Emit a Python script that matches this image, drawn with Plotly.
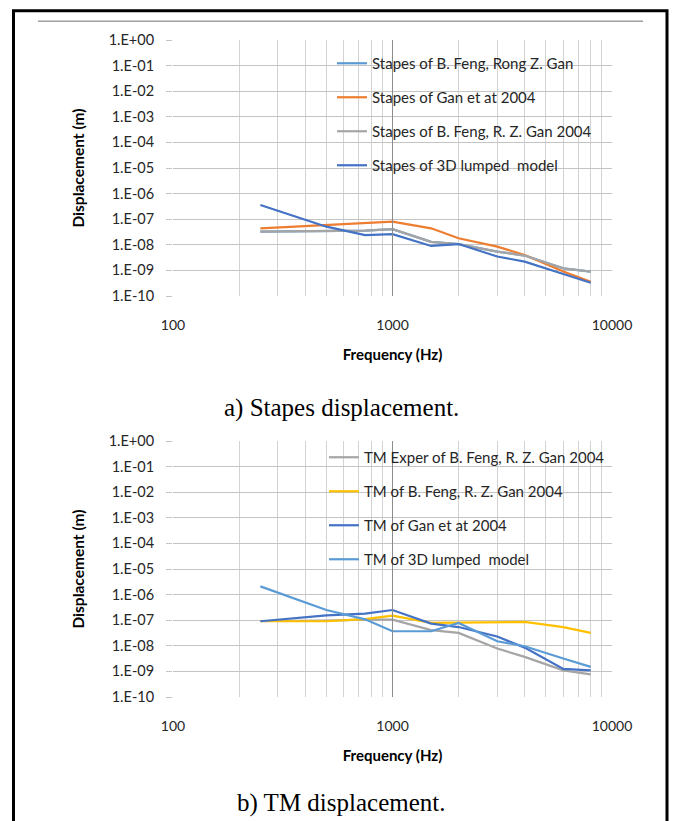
import plotly.graph_objects as go

# Frequencies (Hz) shared by every series
freq = [250, 500, 750, 1000, 1500, 2000, 3000, 4000, 6000, 8000]

# (a) Stapes displacement (m)
stapes_feng_rong = [3.3e-8, 3.5e-8, 3.6e-8, 4.1e-8, 1.3e-8, 1.07e-8, 5.4e-9, 3.8e-9, 1.2e-9, 8.9e-10]
stapes_gan_2004 = [4.4e-8, 5.9e-8, 6.7e-8, 8.0e-8, 4.4e-8, 1.8e-8, 8.5e-9, 4.0e-9, 9.0e-10, 3.6e-10]
stapes_feng_gan_2004 = [3.3e-8, 3.5e-8, 3.6e-8, 4.1e-8, 1.3e-8, 1.07e-8, 5.4e-9, 3.8e-9, 1.2e-9, 8.9e-10]
stapes_lumped = [3.6e-7, 5.1e-8, 2.4e-8, 2.6e-8, 9.0e-9, 1.07e-8, 3.5e-9, 2.2e-9, 7.2e-10, 3.3e-10]

# (b) TM displacement (m)
tm_exper = [9.3e-8, 9.6e-8, 1.05e-7, 1.05e-7, 4.1e-8, 3.2e-8, 7.8e-9, 3.7e-9, 1.1e-9, 7.7e-10]
tm_feng_gan = [9.1e-8, 9.1e-8, 1.1e-7, 1.5e-7, 7.9e-8, 8.1e-8, 8.1e-8, 8.6e-8, 5.4e-8, 3.2e-8]
tm_gan_2004 = [9.1e-8, 1.55e-7, 1.8e-7, 2.5e-7, 7.4e-8, 5.4e-8, 2.3e-8, 8.5e-9, 1.25e-9, 1.1e-9]
tm_lumped = [2.1e-6, 2.5e-7, 1.08e-7, 3.7e-8, 3.7e-8, 7.8e-8, 1.5e-8, 9.6e-9, 3.2e-9, 1.5e-9]

# Axis ticks
y_tickvals = [1e0, 1e-1, 1e-2, 1e-3, 1e-4, 1e-5, 1e-6, 1e-7, 1e-8, 1e-9, 1e-10]
y_ticktext = ["1.E+00", "1.E-01", "1.E-02", "1.E-03", "1.E-04", "1.E-05",
              "1.E-06", "1.E-07", "1.E-08", "1.E-09", "1.E-10"]
x_tickvals = [m * d for d in (100, 1000) for m in range(1, 10)] + [10000]
x_ticktext = [str(v) if v in (100, 1000, 10000) else "" for v in x_tickvals]

W, H = 674, 821


def px_x(p):
    return p / W


def px_y(p):
    return 1 - p / H


BLUE_LIGHT = "#5B9BD5"
ORANGE = "#ED7D31"
GRAY = "#A5A5A5"
YELLOW = "#FFC000"
BLUE = "#4472C4"
UI_FONT = "Lato, Carlito, Calibri, sans-serif"
TEXT = "#262626"

fig = go.Figure()

top_series = [
    ("Stapes of B. Feng, Rong Z. Gan", stapes_feng_rong, BLUE_LIGHT),
    ("Stapes of Gan et at 2004", stapes_gan_2004, ORANGE),
    ("Stapes of B. Feng, R. Z. Gan 2004", stapes_feng_gan_2004, GRAY),
    ("Stapes of 3D lumped  model", stapes_lumped, BLUE),
]
bottom_series = [
    ("TM Exper of B. Feng, R. Z. Gan 2004", tm_exper, GRAY),
    ("TM of B. Feng, R. Z. Gan 2004", tm_feng_gan, YELLOW),
    ("TM of Gan et at 2004", tm_gan_2004, BLUE),
    ("TM of 3D lumped  model", tm_lumped, BLUE_LIGHT),
]

for i, (name, vals, col) in enumerate(top_series):
    fig.add_trace(go.Scatter(x=freq, y=vals, name=name, mode="lines",
                             line=dict(color=col, width=2.2),
                             xaxis="x", yaxis="y", legend="legend",
                             legendgroup=f"a{i}"))
for i, (name, vals, col) in enumerate(bottom_series):
    fig.add_trace(go.Scatter(x=freq, y=vals, name=name, mode="lines",
                             line=dict(color=col, width=2.2),
                             xaxis="x2", yaxis="y2", legend="legend2",
                             legendgroup=f"b{i}"))

xdom = [px_x(173), px_x(612)]
axis_x = dict(type="log", range=[2, 4], tickvals=x_tickvals, ticktext=x_ticktext,
              showgrid=True, gridcolor="#d3d3d3", gridwidth=1, zeroline=False,
              showline=False, ticks="", ticklabelstandoff=19, automargin=False,
              tickfont=dict(family=UI_FONT, size=14, color=TEXT),
              title=dict(text="<b>Frequency (Hz)</b>", standoff=17,
                         font=dict(family=UI_FONT, size=15, color="#000")),
              domain=xdom)
axis_y = dict(type="log", range=[-10, 0], tickvals=y_tickvals, ticktext=y_ticktext,
              showgrid=True, gridcolor="#c4c4c4", gridwidth=1, zeroline=False,
              showline=False, ticks="outside", ticklen=6, tickcolor="#c4c4c4",
              automargin=False, ticklabelstandoff=9,
              tickfont=dict(family=UI_FONT, size=14.5, color=TEXT),
              title=dict(text="<b>Displacement (m)</b>", standoff=20,
                         font=dict(family=UI_FONT, size=15.5, color="#000")))

fig.update_layout(
    width=W, height=H,
    margin=dict(l=0, r=0, t=0, b=0, pad=0, autoexpand=False),
    paper_bgcolor="white", plot_bgcolor="white",
    xaxis=dict(axis_x, anchor="y"),
    yaxis=dict(axis_y, anchor="x", domain=[px_y(296), px_y(40)]),
    xaxis2=dict(axis_x, anchor="y2"),
    yaxis2=dict(axis_y, anchor="x2", domain=[px_y(697), px_y(441)]),
    legend=dict(x=px_x(332), y=px_y(47), xanchor="left", yanchor="top",
                bgcolor="rgba(0,0,0,0)", tracegroupgap=11.5,
                font=dict(family=UI_FONT, size=15, color=TEXT)),
    legend2=dict(x=px_x(324), y=px_y(441), xanchor="left", yanchor="top",
                 bgcolor="rgba(0,0,0,0)", tracegroupgap=11.5,
                 font=dict(family=UI_FONT, size=15, color=TEXT)),
    showlegend=True,
)

# Darker vertical axis line at 1000 Hz on both panels
for xr, yr in (("x", "y"), ("x2", "y2")):
    fig.add_shape(type="line", xref=xr, yref=f"{yr} domain", x0=1000, x1=1000,
                  y0=0, y1=1, line=dict(color="#8c8c8c", width=1), layer="above")

# Outer frame and top rule
fig.add_shape(type="rect", xref="paper", yref="paper",
              x0=px_x(13.5), x1=px_x(667), y0=-0.05, y1=px_y(10.7),
              line=dict(color="black", width=3), fillcolor="rgba(0,0,0,0)")
fig.add_shape(type="line", xref="paper", yref="paper",
              x0=px_x(38), x1=px_x(643), y0=px_y(21.3), y1=px_y(21.3),
              line=dict(color="#a0a0a0", width=1.5))

# Panel captions
cap_font = dict(family="Liberation Serif, Times New Roman, serif", size=25, color="black")
fig.add_annotation(text="a) Stapes displacement.", xref="paper", yref="paper",
                   x=px_x(341), y=px_y(408), showarrow=False, font=cap_font,
                   xanchor="center", yanchor="middle")
fig.add_annotation(text="b) TM displacement.", xref="paper", yref="paper",
                   x=px_x(341), y=px_y(803), showarrow=False, font=cap_font,
                   xanchor="center", yanchor="middle")

fig.write_html("out.html")
